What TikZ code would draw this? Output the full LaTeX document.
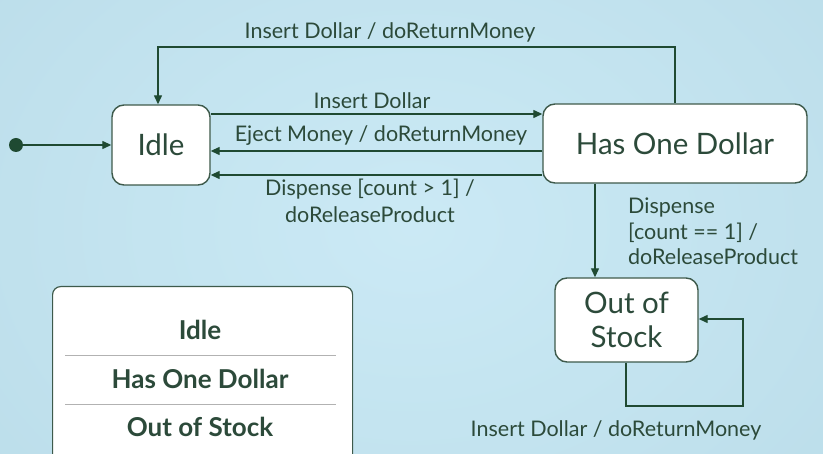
\documentclass[tikz,border=0pt]{standalone}
\usepackage{fontspec}
\setmainfont{Lato}
\usetikzlibrary{arrows.meta,calc}
\definecolor{bgc}{HTML}{C4E7F4}
\definecolor{bge}{HTML}{B3D4E0}
\definecolor{txt}{HTML}{2C4A3A}
\definecolor{ln}{HTML}{1F4A32}
\definecolor{bd}{HTML}{3E5A4B}
\tikzset{
  statebox/.style={draw=bd, line width=1.4pt, fill=white, rounded corners=12pt, text=txt, font=\fontsize{29.5}{34}\selectfont, align=center, inner sep=0pt},
  arr/.style={draw=ln, line width=1.3pt, -{Triangle[length=9pt,width=8pt]}},
  lbl/.style={text=txt, font=\fontsize{21.5}{27}\selectfont, inner sep=0pt},
  leg/.style={text=txt, font=\bfseries\fontsize{26}{30}\selectfont, inner sep=0pt}
}
\begin{document}
\begin{tikzpicture}[x=1pt,y=-1pt]
\useasboundingbox (0,0) rectangle (823,454);
\shade[inner color=bgc!70!white!90!bgc, outer color=bge] (-150,-200) rectangle (973,654);
\fill[bgc, opacity=0.5] (0,0) rectangle (823,454);
% states
\node[statebox, minimum width=98pt, minimum height=80pt] (idle) at (161,145) {Idle};
\node[statebox, minimum width=264pt, minimum height=79pt] (hod) at (675,143.5) {Has One Dollar};
\node[statebox, minimum width=143pt, minimum height=84pt] (oos) at (626.5,320) {Out of\\Stock};
% initial
\fill[ln] (16,145) circle (7pt);
\node[inner sep=0pt, minimum size=14pt] (initn) at (16,145) {};
\draw[arr] (initn.east) -- (idle.west);
% transitions
\draw[arr] (hod.north) -- (675,47) -- (158,47) -- ([xshift=-3pt]idle.north);
\node[lbl] (l1) at (390,32) {Insert Dollar / doReturnMoney};
\draw[arr] (idle.east |- 0,114) -- (hod.west |- 0,114);
\node[lbl] (l2) at (372,101) {Insert Dollar};
\draw[arr] (hod.west |- 0,151) -- (idle.east |- 0,151);
\node[lbl] (l3) at (381,136) {Eject Money / doReturnMoney};
\draw[arr] (hod.west |- 0,175) -- (idle.east |- 0,175);
\node[lbl, align=center] (l4) at (370,200.5) {Dispense [count > 1] /\\doReleaseProduct};
\draw[arr] (hod.south -| 595,0) -- (oos.north -| 595,0);
\node[lbl, align=left, anchor=west, font=\fontsize{21.5}{25.5}\selectfont] (l5) at (628,231.5) {Dispense\\{[}count == 1{]} /\\doReleaseProduct};
\draw[arr] (oos.south -| 626,0) -- (626,406) -- (743,406) -- (743,319) -- (oos.east |- 0,319);
\node[lbl] (l6) at (616,430) {Insert Dollar / doReturnMoney};
% legend
\node[draw=bd, line width=1.2pt, fill=white, rounded corners=8pt, minimum width=300pt, minimum height=190pt, anchor=north west, inner sep=0pt] (legend) at (52,286) {};
\node[leg] (g1) at (200,330) {Idle};
\node[leg] (g2) at (200,379) {Has One Dollar};
\node[leg] (g3) at (200,427) {Out of Stock};
\draw[black!30, line width=0.8pt] (65,355) -- (336,355);
\draw[black!30, line width=0.8pt] (65,404) -- (336,404);
\end{tikzpicture}
\end{document}
